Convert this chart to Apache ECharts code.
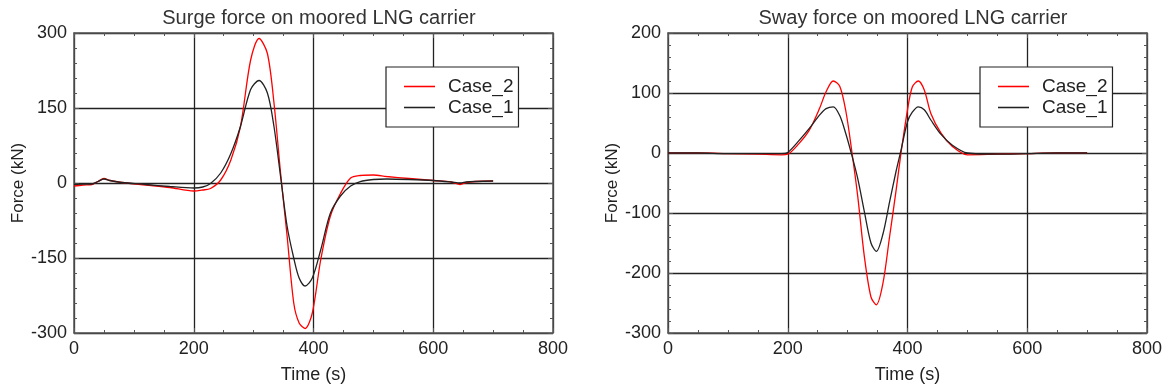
<!DOCTYPE html>
<html>
<head>
<meta charset="utf-8">
<script src="https://cdn.jsdelivr.net/npm/echarts@6/dist/echarts.min.js"></script>
<style>
  html, body { margin: 0; padding: 0; background: #fff; }
  #chart { width: 1170px; height: 390px; }
</style>
</head>
<body>
<div id="chart"></div>
<script>
// Surge force (left panel)
const surgeTime = [0, 15, 30, 40, 50, 60, 80, 120, 160, 200, 215, 228, 245, 262, 278, 295, 309, 323, 334, 345, 356, 367, 376, 386, 398, 412, 428, 445, 462, 478, 500, 522, 560, 600, 630, 645, 655, 670, 700]
const surgeCase2 = [-6, -4, -3, 3, 9, 5, 1, -4, -9, -16, -14, -11, 6, 46, 113, 246, 289, 259, 160, 20, -107, -240, -280, -291, -260, -154, -67, -21, 10, 15, 16, 13, 9, 5, 2, -3, 1, 3, 4]
const surgeCase1 = [-3, -2, -2, 3, 8, 5, 1, -3, -7, -10, -8, -1, 20, 59, 113, 187, 205, 180, 113, 13, -87, -150, -190, -206, -190, -134, -61, -26, -6, 3, 7, 8, 7, 5, 2, 0, 2, 3, 4]

// Sway force (right panel)
const swayTime = [0, 50, 100, 150, 190, 200, 219, 236, 253, 264, 276, 287, 297, 306, 317, 328, 339, 348, 359, 370, 381, 389, 400, 408, 418, 428, 439, 456, 475, 500, 550, 600, 650, 700]
const swayCase2 = [0, 0, -1, -2, -3, -2, 16, 38, 74, 102, 120, 111, 70, 10, -73, -173, -240, -253, -217, -140, -62, -1, 72, 110, 120, 105, 66, 33, 11, -3, -2, -1, 0, 0]
const swayCase1 = [0, 0, -1, -1, -1, 1, 21, 41, 63, 74, 77, 62, 32, 0, -43, -98, -150, -164, -135, -82, -30, 4, 52, 68, 77, 72, 55, 31, 13, 0, -2, -1, 0, 0]

const titles = ['Surge force on moored LNG carrier', 'Sway force on moored LNG carrier']
const seriesNames = ['Case_2', 'Case_1']
const xTicks = { min: 0, max: 800, interval: 200 }
const yTicks = [
  { min: -300, max: 300, interval: 150 },
  { min: -300, max: 200, interval: 100 }
]

const FONT = 'Liberation Sans, Arial, sans-serif'
const gridLefts = [74, 668]

const pair = (t, v) => t.map((x, i) => [x, v[i]])

const chart = echarts.init(document.getElementById('chart'))

const xAxes = []
const yAxes = []
const grids = []
const titleOpts = []
const legends = []

gridLefts.forEach((left, g) => {
  grids.push({ left: left, top: 33, width: 479, height: 300 })
  titleOpts.push({
    text: titles[g],
    left: left + 240,
    top: 3,
    textAlign: 'center',
    textStyle: { fontFamily: FONT, fontSize: 20, fontWeight: 'normal', color: '#333' }
  })
  legends.push({
    data: seriesNames,
    orient: 'vertical',
    left: left + 312,
    top: 67,
    padding: [10, 5, 10, 18],
    itemGap: 2,
    itemWidth: 31,
    itemHeight: 18,
    backgroundColor: '#fff',
    borderColor: '#222',
    borderWidth: 1.2,
    borderRadius: 0,
    icon: 'path://M0,0 L1,0 L1,0.05 L0,0.05 Z',
    textStyle: { fontFamily: FONT, fontSize: 19, color: '#222', padding: [0, 0, 0, 8] }
  })
  const base = (pos, show) => ({
    type: 'value',
    gridIndex: g,
    position: pos,
    axisLine: { show: true, onZero: false, lineStyle: { color: '#555', width: 1.5 } },
    axisTick: { show: true, inside: true, length: 5, lineStyle: { color: '#555' } },
    axisLabel: { show: show, fontFamily: FONT, fontSize: 18, color: '#222', margin: 7 },
    splitLine: { show: show, lineStyle: { color: '#222', width: 1.3 } }
  })
  xAxes.push(Object.assign(base('bottom', true), xTicks, {
    name: 'Time (s)',
    nameLocation: 'middle',
    nameGap: 33,
    nameTextStyle: { fontFamily: FONT, fontSize: 18, color: '#222' },
    minorTick: { show: true, splitNumber: 4, length: 3, lineStyle: { color: '#555' } }
  }))
  xAxes.push(Object.assign(base('top', false), xTicks, {
    minorTick: { show: true, splitNumber: 4, length: 3, lineStyle: { color: '#555' } }
  }))
  yAxes.push(Object.assign(base('left', true), yTicks[g], {
    name: 'Force (kN)',
    nameLocation: 'middle',
    nameGap: 47,
    nameTextStyle: { fontFamily: FONT, fontSize: 17, color: '#222' },
    minorTick: { show: true, splitNumber: 5, length: 3, lineStyle: { color: '#555' } }
  }))
  yAxes.push(Object.assign(base('right', false), yTicks[g], {
    minorTick: { show: true, splitNumber: 5, length: 3, lineStyle: { color: '#555' } }
  }))
})

const line = (name, data, g, color) => ({
  name: name,
  type: 'line',
  xAxisIndex: g * 2,
  yAxisIndex: g * 2,
  data: data,
  smooth: 0.3,
  symbol: 'none',
  lineStyle: { color: color, width: 1.3 },
  itemStyle: { color: color },
  z: 3
})

chart.setOption({
  animation: false,
  backgroundColor: '#fff',
  title: titleOpts,
  legend: legends,
  grid: grids,
  xAxis: xAxes,
  yAxis: yAxes,
  series: [
    line('Case_2', pair(surgeTime, surgeCase2), 0, '#ff0000'),
    line('Case_1', pair(surgeTime, surgeCase1), 0, '#222222'),
    line('Case_2', pair(swayTime, swayCase2), 1, '#ff0000'),
    line('Case_1', pair(swayTime, swayCase1), 1, '#222222')
  ]
})
</script>
</body>
</html>
